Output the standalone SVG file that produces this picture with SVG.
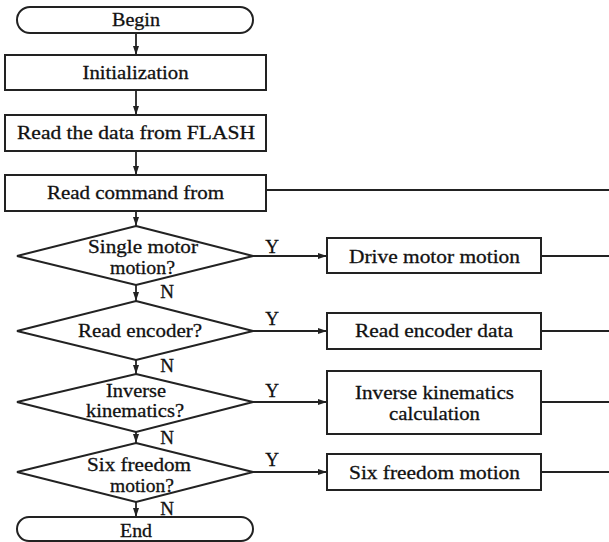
<svg xmlns="http://www.w3.org/2000/svg" width="609" height="542" viewBox="0 0 609 542">
<defs>
<style>
.n{fill:#fff;stroke:#222;stroke-width:2}
.t{font-family:"Liberation Serif","Times New Roman",serif;font-size:19px;fill:#111;stroke:#111;stroke-width:0.3;text-anchor:middle}
.c{fill:none;stroke:#222;stroke-width:1.8}
</style>
<marker id="a" markerWidth="10" markerHeight="8" refX="9" refY="4" orient="auto" markerUnits="userSpaceOnUse">
<path d="M0,1 L9,4 L0,7 Z" fill="#222"/>
</marker>
</defs>
<rect width="609" height="542" fill="#fff"/>
<g id="connectors">
<path class="c" d="M136,33 V55" marker-end="url(#a)"/>
<path class="c" d="M136,90 V115" marker-end="url(#a)"/>
<path class="c" d="M136,151 V175" marker-end="url(#a)"/>
<path class="c" d="M136,211 V226" marker-end="url(#a)"/>
<path class="c" d="M136,285 V301" marker-end="url(#a)"/>
<path class="c" d="M136,360 V374" marker-end="url(#a)"/>
<path class="c" d="M136,432 V443" marker-end="url(#a)"/>
<path class="c" d="M136,502 V517" marker-end="url(#a)"/>
<path class="c" d="M266,190 H609"/>
<path class="c" d="M253,256 H327" marker-end="url(#a)"/>
<path class="c" d="M253,331 H327" marker-end="url(#a)"/>
<path class="c" d="M253,402 H327" marker-end="url(#a)"/>
<path class="c" d="M253,472 H327" marker-end="url(#a)"/>
<path class="c" d="M541,256 H609"/>
<path class="c" d="M541,331 H609"/>
<path class="c" d="M541,402 H609"/>
<path class="c" d="M541,472 H609"/>
<text class="t" x="272" y="253">Y</text>
<text class="t" x="272" y="325">Y</text>
<text class="t" x="272" y="397">Y</text>
<text class="t" x="272" y="466">Y</text>
<text class="t" x="167" y="298">N</text>
<text class="t" x="167" y="372">N</text>
<text class="t" x="167" y="444">N</text>
<text class="t" x="167" y="515">N</text>
</g>
<g id="begin">
<rect class="n" x="17" y="7" width="236" height="26" rx="13"/>
<text class="t" x="136" y="26" textLength="48" lengthAdjust="spacingAndGlyphs">Begin</text>
</g>
<g id="init">
<rect class="n" x="5" y="55" width="261" height="35"/>
<text class="t" x="135.5" y="79" textLength="106" lengthAdjust="spacingAndGlyphs">Initialization</text>
</g>
<g id="flash">
<rect class="n" x="5" y="115" width="261" height="36"/>
<text class="t" x="136" y="139" textLength="238" lengthAdjust="spacingAndGlyphs">Read the data from FLASH</text>
</g>
<g id="command">
<rect class="n" x="5" y="175" width="261" height="36"/>
<text class="t" x="135.5" y="199" textLength="177" lengthAdjust="spacingAndGlyphs">Read command from</text>
</g>
<g id="d1">
<polygon class="n" points="136,226 253,256 136,285 17,256"/>
<text class="t" x="143" y="253" textLength="110" lengthAdjust="spacingAndGlyphs">Single motor</text>
<text class="t" x="142.5" y="274" textLength="65" lengthAdjust="spacingAndGlyphs">motion?</text>
</g>
<g id="d2">
<polygon class="n" points="136,301 253,331 136,360 17,331"/>
<text class="t" x="140" y="337" textLength="124" lengthAdjust="spacingAndGlyphs">Read encoder?</text>
</g>
<g id="d3">
<polygon class="n" points="136,374 253,402 136,432 17,402"/>
<text class="t" x="136" y="397" textLength="60" lengthAdjust="spacingAndGlyphs">Inverse</text>
<text class="t" x="135" y="417" textLength="98" lengthAdjust="spacingAndGlyphs">kinematics?</text>
</g>
<g id="d4">
<polygon class="n" points="136,443 253,472 136,502 17,472"/>
<text class="t" x="139" y="471" textLength="104" lengthAdjust="spacingAndGlyphs">Six freedom</text>
<text class="t" x="142" y="492" textLength="64" lengthAdjust="spacingAndGlyphs">motion?</text>
</g>
<g id="end">
<rect class="n" x="17" y="517" width="236" height="24" rx="12"/>
<text class="t" x="136" y="537" textLength="32" lengthAdjust="spacingAndGlyphs">End</text>
</g>
<g id="drive">
<rect class="n" x="327" y="238" width="214" height="35"/>
<text class="t" x="434.5" y="263" textLength="171" lengthAdjust="spacingAndGlyphs">Drive motor motion</text>
</g>
<g id="encoder">
<rect class="n" x="327" y="313" width="214" height="36"/>
<text class="t" x="434" y="337" textLength="158" lengthAdjust="spacingAndGlyphs">Read encoder data</text>
</g>
<g id="inverse">
<rect class="n" x="327" y="371" width="214" height="63"/>
<text class="t" x="434.5" y="399" textLength="159" lengthAdjust="spacingAndGlyphs">Inverse kinematics</text>
<text class="t" x="434.5" y="420" textLength="91" lengthAdjust="spacingAndGlyphs">calculation</text>
</g>
<g id="six">
<rect class="n" x="327" y="454" width="214" height="36"/>
<text class="t" x="434.5" y="479" textLength="171" lengthAdjust="spacingAndGlyphs">Six freedom motion</text>
</g>
</svg>
